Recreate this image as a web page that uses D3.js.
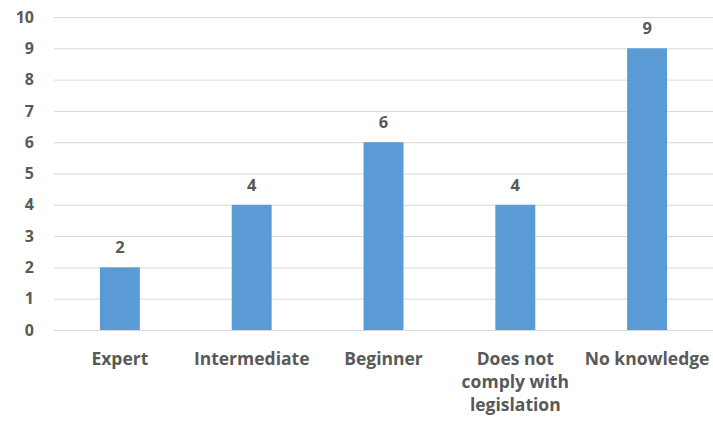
<!DOCTYPE html>
<html>
<head>
<meta charset="utf-8">
<script src="https://cdn.jsdelivr.net/npm/d3@7"></script>
<style>
  html, body { margin: 0; padding: 0; background: #fff; }
  svg text { font-family: "Open Sans", "Lato", sans-serif; font-weight: 700; fill: #595959; }
</style>
</head>
<body>
<svg id="chart" width="713" height="423"></svg>
<script>
// Respondents by self-assessed knowledge level
const categories = ["Expert", "Intermediate", "Beginner", "Does not comply with legislation", "No knowledge"];
const categoryLines = [["Expert"], ["Intermediate"], ["Beginner"], ["Does not", "comply with", "legislation"], ["No knowledge"]];
const values = [2, 4, 6, 4, 9];
const yTicks = [0, 1, 2, 3, 4, 5, 6, 7, 8, 9, 10];

const svg = d3.select("#chart");
const margin = { left: 54, right: 0, top: 17, bottom: 93 };
const W = 713, H = 423;

const x = d3.scaleBand()
  .domain(categories)
  .range([margin.left, W - margin.right])
  .paddingInner(0.697)
  .paddingOuter(0.3485);

const y = d3.scaleLinear()
  .domain([0, 10])
  .range([H - margin.bottom, margin.top]);

// Horizontal gridlines
svg.append("g")
  .selectAll("line")
  .data(yTicks)
  .join("line")
  .attr("x1", margin.left)
  .attr("x2", W - margin.right)
  .attr("y1", d => y(d) + 0.5)
  .attr("y2", d => y(d) + 0.5)
  .attr("stroke", "#d9d9d9")
  .attr("stroke-width", 1);

// Y axis tick labels
const yAxis = d3.axisLeft(y).tickValues(yTicks).tickSize(0).tickPadding(20);
const gy = svg.append("g")
  .attr("transform", `translate(${margin.left},0)`)
  .call(yAxis);
gy.select(".domain").remove();
gy.selectAll("text")
  .attr("font-size", 16)
  .style("font-family", '"Open Sans", sans-serif')
  .style("font-weight", 700)
  .attr("fill", "#595959");

// Bars
svg.append("g")
  .selectAll("rect")
  .data(values)
  .join("rect")
  .attr("x", (d, i) => x(categories[i]))
  .attr("y", d => y(d))
  .attr("width", x.bandwidth())
  .attr("height", d => y(0) - y(d))
  .attr("fill", "#5b9bd5");

// Value labels
svg.append("g")
  .selectAll("text")
  .data(values)
  .join("text")
  .attr("x", (d, i) => x(categories[i]) + x.bandwidth() / 2)
  .attr("y", d => y(d) - 14)
  .attr("text-anchor", "middle")
  .attr("font-size", 16.5)
  .text(d => d);

// Category labels (wrapped)
const cat = svg.append("g")
  .selectAll("text")
  .data(categories)
  .join("text")
  .attr("x", d => x(d) + x.bandwidth() / 2)
  .attr("y", y(0) + 35)
  .attr("text-anchor", "middle")
  .attr("font-size", 17.5);
cat.each(function(d, i) {
  const t = d3.select(this);
  categoryLines[i].forEach((line, j) => {
    t.append("tspan")
      .attr("x", x(d) + x.bandwidth() / 2)
      .attr("dy", j === 0 ? 0 : 23)
      .text(line);
  });
});
</script>
</body>
</html>
